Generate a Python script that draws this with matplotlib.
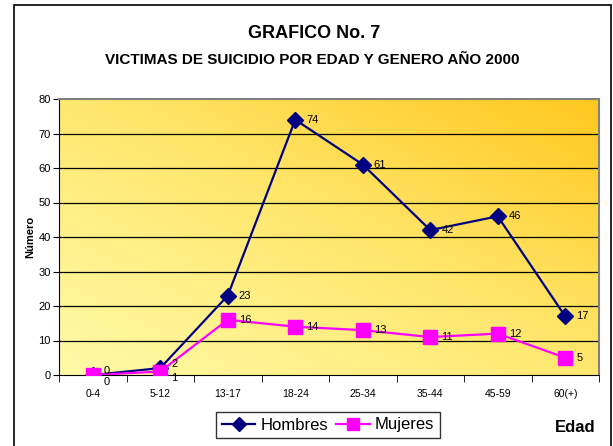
import numpy as np
import matplotlib
matplotlib.use("Agg")
import matplotlib.pyplot as plt
from matplotlib import font_manager
from matplotlib.colors import LinearSegmentedColormap
from matplotlib.patches import Rectangle

# datos del grafico
edades = ["0-4", "5-12", "13-17", "18-24", "25-34", "35-44", "45-59", "60(+)"]
hombres = [0, 2, 23, 74, 61, 42, 46, 17]
mujeres = [0, 1, 16, 14, 13, 11, 12, 5]

# fuente condensada si existe
nombres = set(f.name for f in font_manager.fontManager.ttflist)
fuente = "Liberation Sans"
for cand in ["Liberation Sans Narrow", "DejaVu Sans Condensed"]:
    if cand in nombres:
        fuente = cand
        break
plt.rcParams['font.family'] = [fuente, 'DejaVu Sans']

W, H = 613, 446
fig = plt.figure(figsize=(W / 100, H / 100), dpi=100)
fig.patch.set_facecolor("white")
fig.patches.append(Rectangle((14 / W, -0.01), (611 - 14) / W, 1 - 5 / H + 0.01,
                             transform=fig.transFigure, fill=False,
                             edgecolor="black", linewidth=1.2))

ax = fig.add_axes([59 / W, 1 - 375 / H, (599 - 59) / W, (375 - 99) / H])
x = np.arange(len(edades))

# fondo degradado amarillo
cmap = LinearSegmentedColormap.from_list("fondo", ["#FFFAA8", "#FFE870", "#FFC81E"])
gx, gy = np.meshgrid(np.linspace(0, 1, 200), np.linspace(0, 1, 200))
ax.imshow(0.5 * gx + 0.5 * gy, extent=(-0.5, 7.5, 0, 80), origin="lower",
          cmap=cmap, aspect="auto", zorder=0)

for yv in range(10, 80, 10):
    ax.axhline(yv, color="black", linewidth=0.9, zorder=1)

ax.plot(x, hombres, color="#000080", marker="D", markersize=8, linewidth=1.6,
        label="Hombres", zorder=3)
ax.plot(x, mujeres, color="#FF00FF", marker="s", markersize=10, linewidth=1.6,
        label="Mujeres", zorder=3)

# etiquetas de valores, separadas si los puntos casi coinciden
for xi, h, m in zip(x, hombres, mujeres):
    cerca = abs(h - m) < 4
    ax.annotate(str(h), (xi, h), xytext=(8, 3 if cerca else 0), textcoords="offset points",
                fontsize=8, va="center", ha="left", zorder=4)
    ax.annotate(str(m), (xi, m), xytext=(8, -5 if cerca else 0), textcoords="offset points",
                fontsize=8, va="center", ha="left", zorder=4)

ax.set_xlim(-0.5, 7.5)
ax.set_ylim(0, 80)
ax.set_yticks(range(0, 90, 10))
ax.set_xticks(x)
ax.set_xticklabels(edades, fontsize=7.5)
ax.set_xticks(np.arange(-0.5, 8, 1), minor=True)
ax.tick_params(axis="x", which="major", length=0, pad=10)
ax.tick_params(axis="x", which="minor", length=5, direction="out")
ax.tick_params(axis="y", length=4, labelsize=8, pad=2)

for lado in ["top", "right"]:
    ax.spines[lado].set_color("#808080")
    ax.spines[lado].set_linewidth(1.5)
for lado in ["left", "bottom"]:
    ax.spines[lado].set_color("black")

ax.set_ylabel("Número", fontsize=8, fontweight="bold", labelpad=2)

fig.text(314 / W, 1 - 34 / H, "GRAFICO No. 7", ha="center", va="center",
         fontsize=13, fontweight="bold")
fig.text(312 / W, 1 - 60 / H, "VICTIMAS DE SUICIDIO POR EDAD Y GENERO AÑO 2000",
         ha="center", va="center", fontsize=11, fontweight="bold")
fig.text(595 / W, 1 - 428 / H, "Edad", ha="right", va="center",
         fontsize=12, fontweight="bold")

leg = ax.legend(loc="center", bbox_to_anchor=(328 / W, 1 - 425 / H),
                bbox_transform=fig.transFigure, ncol=2, fontsize=12,
                frameon=True, fancybox=False, edgecolor="black",
                handlelength=2.0, columnspacing=0.5, handletextpad=0.3,
                borderpad=0.35, markerscale=0.9)
leg.get_frame().set_linewidth(1.0)

fig.savefig("out.png", dpi=100)
